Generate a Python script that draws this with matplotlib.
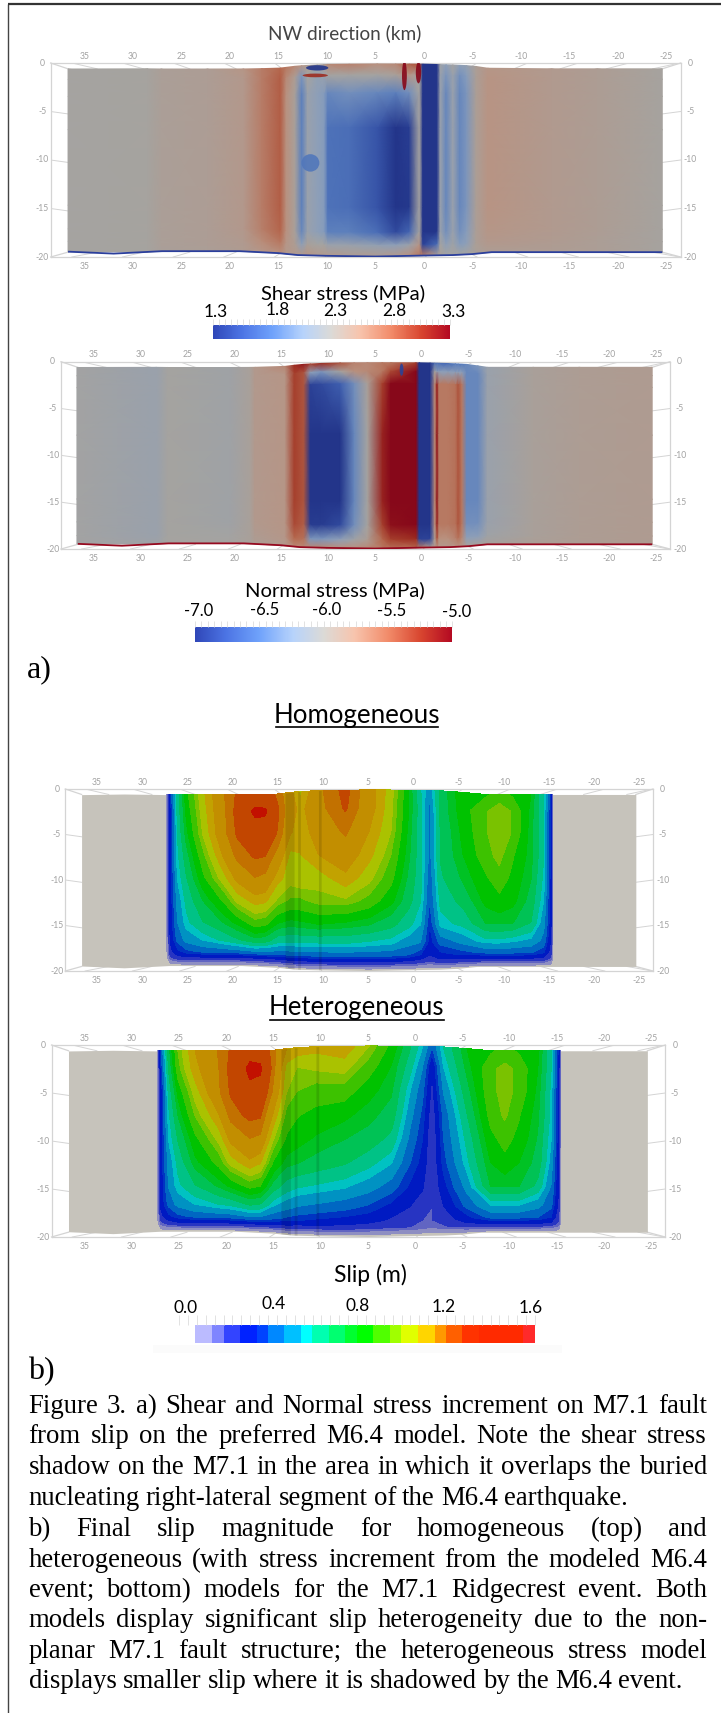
import numpy as np
import matplotlib
matplotlib.use("Agg")
import matplotlib.pyplot as plt
from matplotlib.colors import LinearSegmentedColormap, ListedColormap, BoundaryNorm, Normalize
from matplotlib.patches import Ellipse

W, H = 721, 1713

# ---- data ----
km_ticks = [35, 30, 25, 20, 15, 10, 5, 0, -5, -10, -15, -20, -25]
depth_ticks = [0, -5, -10, -15, -20]

edge_km = [36.7, 32, 27, 19, 15, 13, 10, 5, 0, -3, -5, -7, -24.6]
edge_top = [-0.62, -0.55, -0.62, -0.62, -0.55, -0.3, -0.15, -0.1, -0.12, -0.2, -0.3, -0.6, -0.6]
edge_bot = [-19.45, -19.65, -19.4, -19.4, -19.6, -19.8, -19.88, -19.95, -19.85, -19.8, -19.7, -19.5, -19.5]

shear_km = [36.7, 28.5, 27.1, 22.3, 18.6, 16.7, 14.8, 14.2, 13.3, 12.6, 12, 11, 10.3, 9.9, 7.7, 4.8, 2.9, 1.5,
            0.45, 0.1, -1.35, -1.7, -2.3, -3, -3.7, -4.4, -5.4, -6.6, -13.2, -17.9, -24.6]
shear_depth = [0.6, 1.7, 3.5, 7, 15, 17.5, 18.8, 19.9]
shear_vals = [
    [2.30, 2.31, 2.37, 2.39, 2.50, 2.68, 2.80, 2.70, 2.60, 2.50, 2.40, 2.30, 2.40, 2.60, 2.65, 2.55, 2.60, 2.85,
     2.90, 1.30, 1.30, 2.25, 2.10, 2.30, 2.10, 2.15, 2.38, 2.50, 2.44, 2.40, 2.31],
    [2.30, 2.31, 2.37, 2.39, 2.46, 2.68, 2.85, 2.60, 2.40, 2.00, 2.30, 2.15, 2.20, 2.30, 2.30, 2.30, 2.35, 2.50,
     2.30, 1.30, 1.30, 2.20, 2.00, 2.20, 1.95, 2.05, 2.38, 2.52, 2.44, 2.40, 2.31],
    [2.30, 2.31, 2.37, 2.39, 2.46, 2.68, 2.85, 2.55, 2.35, 1.85, 2.20, 2.10, 2.05, 1.90, 1.95, 1.90, 1.85, 1.95,
     2.30, 1.30, 1.30, 2.20, 1.90, 2.20, 1.90, 2.00, 2.38, 2.52, 2.44, 2.40, 2.31],
    [2.30, 2.31, 2.37, 2.39, 2.46, 2.68, 2.85, 2.55, 2.35, 1.85, 2.20, 2.10, 2.05, 1.75, 1.72, 1.52, 1.30, 1.36,
     2.30, 1.30, 1.30, 2.20, 1.90, 2.20, 1.90, 2.00, 2.38, 2.52, 2.44, 2.40, 2.31],
    [2.30, 2.31, 2.37, 2.39, 2.46, 2.68, 2.85, 2.55, 2.35, 1.85, 2.20, 2.10, 2.05, 1.75, 1.72, 1.52, 1.30, 1.33,
     2.30, 1.30, 1.30, 2.20, 1.90, 2.20, 1.90, 2.00, 2.38, 2.52, 2.44, 2.40, 2.31],
    [2.30, 2.31, 2.37, 2.39, 2.46, 2.66, 2.82, 2.55, 2.35, 1.90, 2.20, 2.10, 2.05, 1.85, 1.85, 1.72, 1.45, 1.65,
     2.30, 1.30, 1.30, 2.20, 1.95, 2.20, 1.95, 2.05, 2.38, 2.50, 2.44, 2.40, 2.31],
    [2.30, 2.31, 2.37, 2.39, 2.44, 2.58, 2.70, 2.50, 2.40, 2.10, 2.35, 2.30, 2.30, 2.20, 2.20, 2.15, 2.10, 2.20,
     2.50, 1.40, 1.70, 2.30, 2.10, 2.25, 2.05, 2.10, 2.38, 2.46, 2.42, 2.38, 2.31],
    [2.30, 2.31, 2.36, 2.38, 2.42, 2.48, 2.55, 2.45, 2.45, 2.45, 2.50, 2.45, 2.45, 2.45, 2.42, 2.42, 2.45, 2.55,
     2.70, 2.70, 2.40, 2.35, 2.30, 2.30, 2.30, 2.30, 2.35, 2.40, 2.40, 2.38, 2.31],
]
# small features drawn on top: km, depth, width km, height km, value
shear_spots = [
    (11.7, -10.3, 1.85, 1.8, 1.78),
    (11.0, -0.5, 2.3, 0.55, 1.30),
    (11.2, -1.28, 2.6, 0.38, 3.1),
    (2.0, -1.3, 0.5, 3.0, 3.3),
    (0.55, -1.0, 0.55, 2.2, 3.3),
]

normal_km = [36.8, 28.3, 27.1, 20.5, 18.3, 17.8, 14.6, 13.6, 12.6, 11.9, 10.7, 8.7, 7.2, 5.8, 4.2, 3.3, 0.6, 0.26,
             -0.9, -1.4, -1.65, -1.85, -2.8, -3.6, -3.9, -4.3, -4.8, -6, -7, -11.9, -16.8, -24.6]
normal_depth = [0.6, 1.5, 2.8, 8, 15, 17.5, 19, 19.9]
normal_vals = [
    [-6.02, -6.1, -6.0, -6.05, -5.95, -5.85, -5.7, -5.2, -5.1, -5.3, -5.2, -5.4, -5.65, -5.7, -5.6, -5.6, -5.3, -7.0,
     -7.0, -6.6, -6.6, -6.6, -6.6, -6.5, -6.5, -6.5, -6.4, -6.3, -6.1, -5.95, -5.9, -5.88],
    [-6.02, -6.1, -6.0, -6.05, -5.95, -5.85, -5.8, -5.3, -5.4, -6.2, -6.3, -6.0, -5.75, -5.7, -5.6, -5.35, -5.0, -7.0,
     -7.0, -6.0, -6.2, -6.2, -6.2, -6.2, -6.2, -6.2, -6.4, -6.4, -6.1, -5.95, -5.9, -5.88],
    [-6.02, -6.1, -6.0, -6.05, -5.95, -5.85, -5.8, -5.3, -5.4, -6.9, -6.85, -6.7, -6.35, -5.95, -5.3, -5.0, -5.0, -7.0,
     -7.0, -5.7, -5.15, -5.6, -5.6, -5.55, -5.4, -5.6, -6.4, -6.4, -6.1, -5.95, -5.9, -5.88],
    [-6.02, -6.1, -6.0, -6.05, -5.95, -5.85, -5.8, -5.3, -5.4, -7.0, -7.0, -7.0, -6.4, -6.0, -5.15, -5.0, -5.0, -7.0,
     -7.0, -5.7, -5.1, -5.6, -5.6, -5.55, -5.4, -5.6, -6.4, -6.4, -6.1, -5.95, -5.9, -5.88],
    [-6.02, -6.1, -6.0, -6.05, -5.95, -5.85, -5.8, -5.3, -5.4, -7.0, -7.0, -7.0, -6.4, -6.0, -5.15, -5.0, -5.0, -7.0,
     -7.0, -5.7, -5.1, -5.6, -5.6, -5.55, -5.4, -5.6, -6.4, -6.4, -6.1, -5.95, -5.9, -5.88],
    [-6.02, -6.1, -6.0, -6.05, -5.95, -5.85, -5.8, -5.35, -5.45, -6.95, -6.95, -6.85, -6.35, -6.0, -5.3, -5.05, -5.0, -7.0,
     -7.0, -5.75, -5.15, -5.6, -5.6, -5.55, -5.4, -5.6, -6.35, -6.35, -6.1, -5.95, -5.9, -5.88],
    [-6.02, -6.1, -6.0, -6.02, -5.95, -5.88, -5.82, -5.5, -5.55, -6.3, -6.3, -6.2, -6.05, -5.9, -5.5, -5.3, -5.2, -6.9,
     -6.9, -5.9, -5.4, -5.75, -5.75, -5.65, -5.55, -5.7, -6.2, -6.2, -6.05, -5.95, -5.9, -5.88],
    [-6.02, -6.05, -6.0, -6.0, -5.95, -5.9, -5.85, -5.7, -5.7, -5.7, -5.7, -5.75, -5.75, -5.7, -5.6, -5.55, -5.5, -5.6,
     -5.9, -5.85, -5.8, -5.85, -5.85, -5.8, -5.8, -5.85, -5.95, -5.95, -5.95, -5.92, -5.9, -5.88],
]
normal_spots = [(2.15, -0.85, 0.4, 1.3, -6.9)]

cw_stops = [0.0, 0.12, 0.25, 0.38, 0.5, 0.62, 0.75, 0.88, 1.0]
cw_colors = ["#2f47b8", "#4c74e4", "#6fa2fb", "#b7d3fb", "#dcdad6", "#f7c4ad", "#f28c6a", "#d8452f", "#b40a22"]

slip_levels = [0.072, 0.147, 0.2, 0.274, 0.349, 0.4, 0.473, 0.548, 0.598, 0.673, 0.748, 0.8, 0.873, 0.948, 0.998,
               1.073, 1.15, 1.2, 1.273, 1.348, 1.548, 1.6]
slip_colors = ["#bbbbff", "#7f85ff", "#3344ff", "#0022ff", "#0044ff", "#0088ff", "#00c0ff", "#00ffff", "#00ffb0",
               "#00ff70", "#00ff30", "#00ff00", "#50ff00", "#a0ff00", "#e0ff00", "#ffd500", "#ff9900", "#ff6000",
               "#ff3300", "#ff2a00", "#ff2a2a"]
surface_top_colors = ["#ffd500", "#ffbb00", "#ffbb00", "#ff9500", "#ff5c00", "#ff1500"]

slip_km = [27.4, 26.9, 26.1, 25.1, 23.3, 20.8, 19.5, 17.5, 16.4, 15, 13.6, 12.5, 10.5, 7.5, 4.9, 2.5, 0.5, -0.8, -1.8,
           -3, -5.5, -8, -9.5, -11, -13, -14.4, -15.2, -15.5]
slip_depth = [0.6, 2.5, 5, 7.5, 10, 12.5, 15, 17, 18.3, 19, 19.9]
slip_homog = [
    [0.0] * 11,
    [.35, .30, .30, .30, .30, .30, .30, .28, .25, .18, .03],
    [.62, .62, .60, .58, .55, .50, .47, .42, .33, .24, .03],
    [.85, .82, .78, .72, .67, .62, .58, .50, .38, .26, .03],
    [1.05, 1.03, 1.0, .92, .85, .75, .67, .55, .42, .26, .03],
    [1.28, 1.27, 1.26, 1.18, 1.06, .90, .76, .62, .43, .27, .03],
    [1.36, 1.38, 1.36, 1.30, 1.18, 1.02, .82, .66, .44, .27, .03],
    [1.40, 1.59, 1.45, 1.36, 1.27, 1.11, .92, .72, .46, .27, .03],
    [1.40, 1.58, 1.43, 1.35, 1.25, 1.09, .90, .70, .45, .27, .03],
    [1.33, 1.36, 1.34, 1.23, 1.10, .98, .80, .62, .44, .27, .03],
    [1.18, 1.20, 1.16, 1.05, 1.03, .93, .77, .60, .43, .27, .03],
    [1.05, 1.12, 1.10, 1.07, 1.05, .93, .78, .60, .43, .27, .03],
    [1.25, 1.24, 1.20, 1.15, 1.03, .97, .80, .60, .43, .27, .03],
    [1.38, 1.36, 1.29, 1.21, 1.13, .98, .78, .60, .43, .27, .03],
    [1.20, 1.20, 1.15, 1.10, 1.02, .92, .75, .58, .42, .27, .03],
    [1.03, 1.02, 1.0, .95, .90, .82, .70, .56, .42, .27, .03],
    [.80, .80, .78, .76, .73, .70, .62, .50, .40, .26, .03],
    [.60, .62, .62, .62, .62, .60, .55, .47, .35, .24, .03],
    [.50, .45, .45, .45, .42, .40, .35, .32, .28, .20, .03],
    [.70, .70, .68, .68, .66, .62, .57, .42, .33, .25, .03],
    [.85, .84, .82, .80, .76, .70, .62, .50, .37, .26, .03],
    [.86, .94, .94, .92, .86, .82, .75, .58, .42, .27, .03],
    [.90, .99, .99, .97, .92, .85, .76, .58, .43, .27, .03],
    [.86, .94, .94, .88, .85, .82, .75, .56, .42, .27, .03],
    [.80, .78, .77, .77, .75, .72, .67, .53, .41, .27, .03],
    [.60, .60, .60, .60, .58, .55, .50, .45, .36, .25, .03],
    [.35, .33, .33, .33, .32, .30, .30, .27, .24, .18, .03],
    [0.0] * 11,
]
slip_heter = [
    [0.0] * 11,
    [.40, .35, .30, .30, .30, .30, .30, .30, .25, .18, .03],
    [.72, .68, .62, .58, .55, .50, .48, .42, .33, .24, .03],
    [.95, .92, .82, .75, .68, .62, .58, .50, .38, .26, .03],
    [1.15, 1.12, 1.03, .95, .85, .78, .67, .55, .42, .27, .03],
    [1.28, 1.27, 1.26, 1.14, 1.02, .90, .76, .60, .43, .27, .03],
    [1.36, 1.38, 1.36, 1.31, 1.18, 1.03, .82, .62, .44, .28, .03],
    [1.48, 1.59, 1.50, 1.37, 1.27, 1.13, .90, .68, .47, .28, .03],
    [1.46, 1.58, 1.47, 1.36, 1.25, 1.08, .87, .66, .46, .28, .03],
    [1.30, 1.30, 1.25, 1.13, 1.00, .86, .71, .55, .42, .27, .03],
    [1.15, 1.05, 1.0, .92, .86, .77, .63, .50, .38, .26, .03],
    [1.13, 1.0, .95, .88, .83, .75, .60, .47, .36, .25, .03],
    [1.10, 1.02, .92, .85, .79, .72, .58, .45, .34, .25, .03],
    [1.13, 1.04, .92, .82, .75, .68, .55, .42, .32, .25, .03],
    [1.0, .92, .83, .77, .72, .62, .50, .38, .30, .22, .03],
    [.85, .80, .76, .72, .65, .55, .43, .32, .26, .21, .03],
    [.68, .63, .55, .50, .45, .40, .33, .27, .24, .20, .03],
    [.55, .48, .42, .38, .35, .32, .28, .24, .20, .18, .03],
    [.40, .28, .25, .22, .20, .20, .20, .20, .20, .16, .03],
    [.60, .55, .48, .42, .40, .37, .32, .27, .23, .19, .03],
    [.80, .77, .72, .67, .62, .58, .50, .42, .32, .25, .03],
    [.86, .93, .93, .90, .85, .80, .75, .55, .42, .27, .03],
    [.90, .97, .97, .96, .90, .85, .75, .55, .42, .27, .03],
    [.86, .93, .93, .88, .85, .80, .75, .55, .42, .27, .03],
    [.82, .80, .78, .76, .74, .72, .65, .50, .40, .27, .03],
    [.60, .60, .58, .58, .55, .52, .47, .42, .35, .25, .03],
    [.33, .32, .30, .30, .30, .28, .28, .25, .22, .18, .03],
    [0.0] * 11,
]
shade_bands = [(14.2, 13.2), (12.8, 12.5), (10.5, 10.2)]

caption_lines = [
    "Figure 3. a) Shear and Normal stress increment on M7.1 fault",
    "from slip on the preferred M6.4 model. Note the shear stress",
    "shadow on the M7.1 in the area in which it overlaps the buried",
    "nucleating right-lateral segment of the M6.4 earthquake.",
    "b) Final slip magnitude for homogeneous (top) and",
    "heterogeneous (with stress increment from the modeled M6.4",
    "event; bottom) models for the M7.1 Ridgecrest event. Both",
    "models display significant slip heterogeneity due to the non-",
    "planar M7.1 fault structure; the heterogeneous stress model",
    "displays smaller slip where it is shadowed by the M6.4 event.",
]
caption_right = [707, 707, 707, 627.6, 707, 707, 707, 707, 707, 682.8]
caption_y = [1412.7, 1443.3, 1474, 1505, 1535.7, 1566.7, 1596.7, 1626.7, 1657.7, 1688.3]

# ---- helpers ----
plt.rcParams["font.family"] = ["Lato", "DejaVu Sans"]
fig = plt.figure(figsize=(W / 100, H / 100), dpi=100, facecolor="white")
page = fig.add_axes([0, 0, 1, 1])
page.set_xlim(0, W)
page.set_ylim(H, 0)
page.axis("off")


def px_axes(x0, y0, x1, y1):
    return fig.add_axes([x0 / W, 1 - y1 / H, (x1 - x0) / W, (y1 - y0) / H])


def scaled(colors, factor):
    return [tuple(c * factor for c in matplotlib.colors.to_rgb(v)) for v in colors]


cw_bar = LinearSegmentedColormap.from_list("cw", list(zip(cw_stops, cw_colors)))
cw_lit = LinearSegmentedColormap.from_list("cwlit", list(zip(cw_stops, scaled(cw_colors, 0.75))))
slip_norm = BoundaryNorm(slip_levels, len(slip_colors))
slip_lit = ListedColormap(scaled(slip_colors[:-6] + surface_top_colors, 0.76))
edge_x = -np.array(edge_km)


def surface_grid(km, depth):
    km = np.asarray(km, float)
    depth = np.asarray(depth, float)
    top = np.interp(-km, edge_x, edge_top)
    bot = np.interp(-km, edge_x, edge_bot)
    frac = (depth - depth[0]) / (depth[-1] - depth[0])
    X = np.tile(km, (len(depth), 1))
    Y = top + np.outer(frac, bot - top)
    return X, Y


def panel_box(box):
    ax = px_axes(*box)
    ax.set_xlim(38.5, -26.5)
    ax.set_ylim(-20, 0)
    ax.axis("off")
    grey = "#d4d4d4"
    for xs, ys in [([38.5, -26.5], [0, 0]), ([38.5, -26.5], [-20, -20]), ([38.5, 38.5], [0, -20]),
                   ([-26.5, -26.5], [0, -20]), ([38.5, 36.7], [0, -0.6]), ([-26.5, -24.6], [0, -0.6]),
                   ([38.5, 36.7], [-20, -19.5]), ([-26.5, -24.6], [-20, -19.5])]:
        ax.plot(xs, ys, color=grey, lw=0.9, clip_on=False, zorder=1)
    for k in km_ticks:
        lean = (k - 6) * 0.045
        ax.plot([k + lean, k - lean], [0, -0.6], color=grey, lw=0.7, zorder=1)
        ax.plot([k + lean, k - lean], [-20, -19.5], color=grey, lw=0.7, zorder=1)
        for yy, dy in [(0, 5), (-20, -7)]:
            ax.annotate(str(k), (k, yy), xytext=(0, dy), textcoords="offset points", ha="center", va="center",
                        fontsize=6.2, color="#a2a2a2", annotation_clip=False)
    for d in depth_ticks:
        for xx, dx, x2 in [(38.5, -6, 36.7), (-26.5, 7, -24.6)]:
            if d not in (0, -20):
                ax.plot([xx, x2], [d, d - 0.25], color=grey, lw=0.7, zorder=1)
            ax.annotate(str(d), (xx, d), xytext=(dx, 0), textcoords="offset points", ha="center", va="center",
                        fontsize=6.2, color="#a2a2a2", annotation_clip=False)
    return ax


def stress_panel(box, km, depth, vals, vmin, vmax, spots, line_color):
    ax = panel_box(box)
    X, Y = surface_grid(km, depth)
    norm = Normalize(vmin, vmax)
    ax.pcolormesh(X, Y, np.array(vals), cmap=cw_lit, norm=norm, shading="gouraud", zorder=2, rasterized=True)
    for sx, sy, sw, sh, val in spots:
        ax.add_patch(Ellipse((sx, sy), sw, sh, color=cw_lit(norm(val)), lw=0, alpha=0.9, zorder=3))
    ax.plot(edge_km, edge_bot, color=line_color, lw=1.3, zorder=4, solid_capstyle="butt")
    return ax


def slip_panel(box, vals):
    ax = panel_box(box)
    ax.fill_between(edge_km, edge_top, edge_bot, color="#c6c3bb", lw=0, zorder=2)
    X, Y = surface_grid(slip_km, slip_depth)
    ax.contourf(X, Y, np.array(vals).T, levels=slip_levels, cmap=slip_lit, norm=slip_norm, zorder=3)
    for a, b in shade_bands:
        ax.fill_between([a, b], np.interp([-a, -b], edge_x, edge_top), np.interp([-a, -b], edge_x, edge_bot),
                        color="black", alpha=0.12, lw=0, zorder=4)
    return ax


def stress_bar(box, vmin, vmax, minor):
    ax = px_axes(*box)
    sm = plt.cm.ScalarMappable(norm=Normalize(vmin, vmax), cmap=cw_bar)
    cb = fig.colorbar(sm, cax=ax, orientation="horizontal")
    cb.outline.set_visible(False)
    ax.xaxis.set_ticks_position("top")
    ax.set_xticks(np.arange(0, minor + 1) / minor * (vmax - vmin) + vmin, labels=[])
    ax.minorticks_off()
    ax.tick_params(axis="x", length=4.5, width=0.6, color="#dddddd")
    return ax


def label(x, y, s, size, color="black", family=None, ha="center"):
    return page.text(x, y, s, fontsize=size, color=color, ha=ha, va="center", family=family)


# ---- frame ----
page.plot([8, 8], [4, H], color="#444444", lw=1.0, solid_capstyle="butt")
page.plot([8, W], [4, 4], color="#333333", lw=1.6, solid_capstyle="butt")

# ---- a) stress panels ----
label(345, 33, "NW direction (km)", 13.7, "#444444")
stress_panel((50.6, 63, 680.7, 257), shear_km, shear_depth, shear_vals, 1.3, 3.3, shear_spots, "#2b3f9c")
label(343, 293, "Shear stress (MPa)", 14.6)
for x, y, s in [(216, 312, "1.3"), (278, 310, "1.8"), (335, 311, "2.3"), (394.5, 311, "2.8"), (454, 312, "3.3")]:
    label(x, y, s, 12.5)
stress_bar((213, 325, 450, 339), 1.3, 3.3, 40)

stress_panel((61, 361.7, 670, 549), normal_km, normal_depth, normal_vals, -7, -5, normal_spots, "#96091f")
label(335, 590, "Normal stress (MPa)", 14.6)
for x, y, s in [(199, 611, "-7.0"), (265, 610, "-6.5"), (327, 610, "-6.0"), (392, 611, "-5.5"), (457, 612, "-5.0")]:
    label(x, y, s, 12)
stress_bar((195, 626.7, 452.4, 642), -7, -5, 40)
label(39, 670, "a)", 23, family="Liberation Serif")

# ---- b) slip panels ----
label(357, 715, "Homogeneous", 18.6)
page.plot([275.7, 438], [727, 727], color="black", lw=1.2)
slip_panel((65.3, 789, 653, 971), slip_homog)

label(356, 1008, "Heterogeneous", 18.5)
page.plot([270, 444], [1019.5, 1019.5], color="black", lw=1.2)
slip_panel((51.5, 1045, 665.3, 1237), slip_heter)

label(370, 1275, "Slip (m)", 16.5)
for x, y, s in [(186, 1308, "0.0"), (274, 1304, "0.4"), (358, 1306, "0.8"), (444, 1307, "1.2"), (531, 1308, "1.6")]:
    label(x, y, s, 12.5)
page.fill_between([153, 562], 1345, 1353, color="#fbfbfb", lw=0)
sb = px_axes(179, 1325, 535, 1343)
sb.barh([0], np.diff(slip_levels), left=slip_levels[:-1], height=1, color=slip_colors, align="center")
sb.set_xlim(0, 1.6)
sb.set_ylim(-0.5, 0.5)
sb.xaxis.set_ticks_position("top")
sb.set_xticks(np.arange(0, 41) * 0.04, labels=[])
sb.set_yticks([])
sb.tick_params(axis="x", length=7, width=0.6, color="#dddddd")
for sp in sb.spines.values():
    sp.set_visible(False)
label(41, 1372, "b)", 23, family="Liberation Serif")

# ---- caption, justified by hand ----
renderer = fig.canvas.get_renderer()
cap_left = 28.5
for line, y, right in zip(caption_lines, caption_y, caption_right):
    words = line.split(" ")
    arts = [page.text(0, y, w, fontsize=19.3, family="Liberation Serif", va="baseline", ha="left") for w in words]
    widths = [a.get_window_extent(renderer).width for a in arts]
    gap = (right - cap_left - sum(widths)) / (len(words) - 1)
    x = cap_left
    for a, w in zip(arts, widths):
        a.set_x(x)
        x += w + gap

fig.savefig("out.png", dpi=100)
